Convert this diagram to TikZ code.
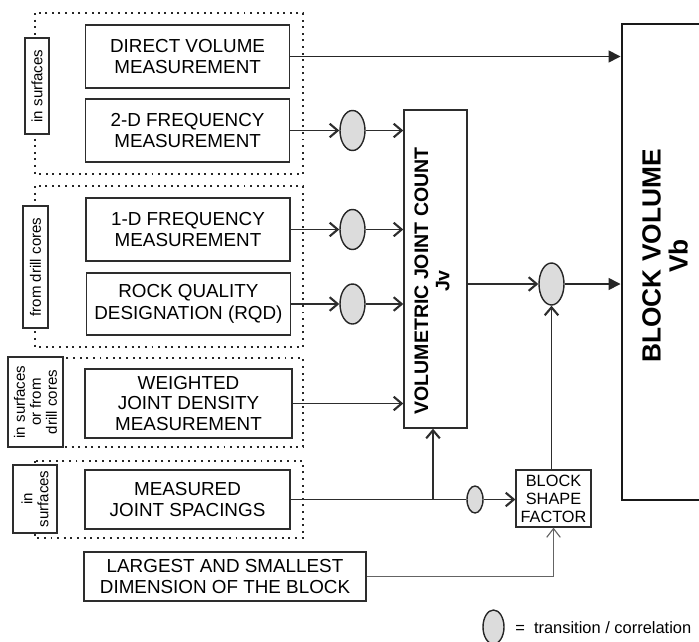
\documentclass[tikz,border=0pt]{standalone}
\usepackage{fontspec}
\setmainfont{Liberation Sans}
\usepackage{tikz}
\usetikzlibrary{arrows,arrows.meta,shapes,positioning}
\usepackage{xcolor}
\definecolor{jvdark}{RGB}{45,45,45}
\definecolor{jvgray}{RGB}{100,100,100}
\definecolor{jvfill}{RGB}{220,220,220}
\tikzstyle{measure} = [rectangle, draw=jvdark, line width=1pt, minimum width=5.1cm, inner sep=0pt, align=center, font=\fontsize{13.4}{15.6}\selectfont]
\tikzstyle{sidelabel} = [rectangle, draw=jvdark, line width=0.8pt, fill=white, rotate=90, inner sep=0pt, align=center, font=\fontsize{10.7}{11.4}\selectfont]
\tikzstyle{transition} = [ellipse, draw=black!85, line width=1pt, fill=jvfill, inner sep=0pt, minimum width=0.625cm, minimum height=1cm]
\tikzstyle{group} = [line width=1.4pt, dash pattern=on 1.4pt off 3.3pt, color=black!85]
\tikzstyle{arrow} = [line width=1pt, color=jvdark, -{Straight Barb[length=0.2cm, width=0.34cm, line width=1.5pt]}]
\tikzstyle{fatarrow} = [line width=1.1pt, color=black!85, -{Triangle[length=0.3cm, width=0.3cm]}]
\tikzstyle{thinarrow} = [line width=0.8pt, color=jvgray, -{Straight Barb[length=0.22cm, width=0.34cm, line width=0.8pt]}]

\begin{document}
\begin{tikzpicture}
    \useasboundingbox (0,0) rectangle (17.475,-16.025);

    % Groups of measurements
    \draw[group] (0.875,-0.325) rectangle (7.575,-4.35);
    \draw[group] (0.875,-4.65) rectangle (7.575,-8.675);
    \draw[group] (0.875,-8.95) rectangle (7.575,-11.175);
    \draw[group] (0.875,-11.525) rectangle (7.575,-13.45);

    \node[sidelabel, minimum width=2.4cm, minimum height=0.6cm] (lab1) at (0.925,-2.15) {in surfaces};
    \node[sidelabel, minimum width=3.05cm, minimum height=0.625cm] (lab2) at (0.8875,-6.675) {from drill cores};
    \node[sidelabel, minimum width=2.25cm, minimum height=1.375cm] (lab3) at (0.8875,-10.05) {in surfaces\\or from\\drill cores};
    \node[sidelabel, minimum width=1.7cm, minimum height=1.1cm] (lab4) at (0.875,-12.475) {in\\surfaces};

    % Measurements
    \node[measure, minimum height=1.575cm] (direct) at (4.69,-1.4125) {DIRECT VOLUME\\MEASUREMENT};
    \node[measure, minimum height=1.575cm] (freq2) at (4.69,-3.2625) {2-D FREQUENCY\\MEASUREMENT};
    \node[measure, minimum height=1.575cm] (freq1) at (4.7,-5.7375) {1-D FREQUENCY\\MEASUREMENT};
    \node[measure, minimum height=1.55cm] (rqd) at (4.71,-7.6) {ROCK QUALITY\\DESIGNATION (RQD)};
    \node[measure, minimum width=5.175cm, minimum height=1.725cm, font=\fontsize{13.4}{14.8}\selectfont] (weighted) at (4.7125,-10.0875) {WEIGHTED\\JOINT DENSITY\\MEASUREMENT};
    \node[measure, minimum width=5.125cm, minimum height=1.475cm] (spacing) at (4.6875,-12.4875) {MEASURED\\JOINT SPACINGS};
    \node[measure, minimum width=7.05cm, minimum height=1.225cm] (largest) at (5.625,-14.4125) {LARGEST AND SMALLEST\\DIMENSION OF THE BLOCK};

    % Transitions
    \node[transition] (ov2d) at (8.8125,-3.2625) {};
    \node[transition] (ov1d) at (8.8125,-5.7375) {};
    \node[transition] (ovrqd) at (8.8125,-7.6) {};
    \node[transition, minimum height=1.05cm] (ovout) at (13.7875,-7.1) {};
    \node[transition, minimum width=0.4cm, minimum height=0.675cm] (ovsmall) at (11.875,-12.4875) {};

    % Volumetric joint count
    \node[rectangle, draw=jvdark, line width=1pt, minimum width=1.575cm, minimum height=7.95cm, inner sep=0pt] (jv) at (10.8875,-6.725) {};
    \node[rotate=90, align=center, font=\bfseries\fontsize{13.9}{15}\selectfont] (jvtext) at (10.8,-7.025) {VOLUMETRIC JOINT COUNT\\Jv};

    % Block shape factor
    \node[rectangle, draw=jvdark, line width=0.9pt, minimum width=1.875cm, minimum height=1.425cm, inner sep=0pt, align=center, font=\fontsize{11.6}{12.8}\selectfont] (bsf) at (13.8375,-12.4625) {BLOCK\\SHAPE\\FACTOR};

    % Block volume
    \node[rectangle, draw=black!90, line width=2.1pt, minimum width=2.15cm, minimum height=11.9cm, inner sep=0pt] (vb) at (16.625,-6.55) {};
    \node[rotate=90, align=center, font=\bfseries\fontsize{18.7}{19.2}\selectfont] (vbtext) at (16.625,-6.4) {BLOCK VOLUME\\Vb};

    % Arrows
    \draw[fatarrow] (direct.east) -- (direct.east -| vb.west);
    \draw[arrow] (freq2.east) -- (ov2d.west);
    \draw[arrow] (ov2d.east) -- (ov2d.east -| jv.west);
    \draw[arrow] (freq1.east) -- (ov1d.west);
    \draw[arrow] (ov1d.east) -- (ov1d.east -| jv.west);
    \draw[arrow] (rqd.east) -- (ovrqd.west);
    \draw[arrow] (ovrqd.east) -- (ovrqd.east -| jv.west);
    \draw[arrow] (weighted.east) -- (weighted.east -| jv.west);
    \draw[arrow] (jv.east |- ovout) -- (ovout.west);
    \draw[fatarrow] (ovout.east) -- (ovout -| vb.west);

    \coordinate (junc) at (10.825,-12.4875);
    \draw[line width=1pt, jvdark] (spacing.east) -- (junc) -- (ovsmall.west);
    \draw[arrow] (junc) -- (junc |- jv.south);
    \draw[arrow] (ovsmall.east) -- (ovsmall.east -| bsf.west);
    \draw[arrow] (bsf.north -| ovout) -- (ovout.south);
    \draw[thinarrow] (largest.east) -| (bsf.south);

    % Legend
    \node[transition, minimum width=0.525cm, minimum height=0.85cm] (legendov) at (12.3375,-15.675) {};
    \node[anchor=west, inner sep=0pt, font=\fontsize{11.7}{13}\selectfont] (legendtext) at (12.875,-15.7) {=\ \ transition / correlation};
\end{tikzpicture}
\end{document}
